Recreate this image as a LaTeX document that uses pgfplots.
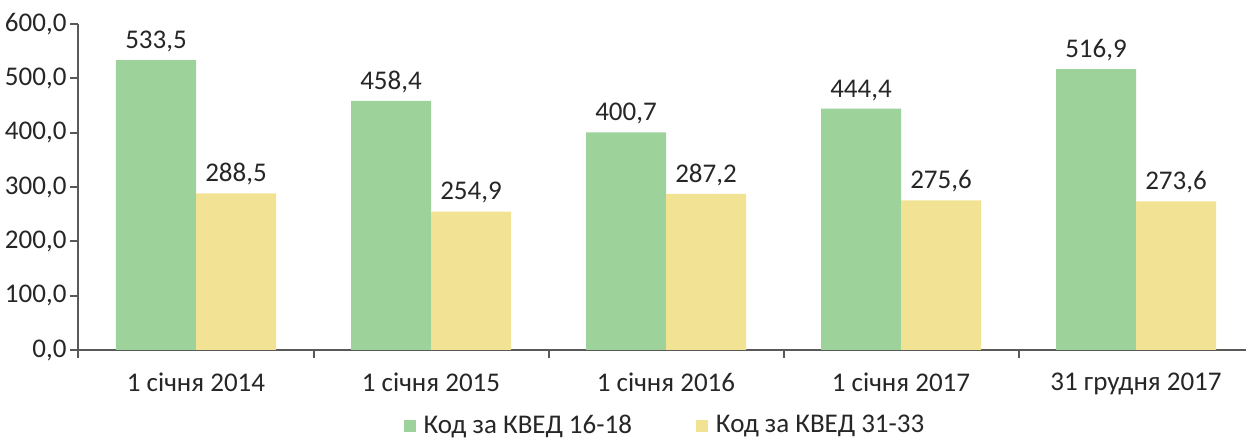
\documentclass[border=0pt]{standalone}
\usepackage{pgfplots}
\pgfplotsset{compat=1.18}
\usepackage{fontspec}
\setmainfont{Carlito}
\definecolor{cgreen}{RGB}{157,210,155}
\definecolor{cyellow}{RGB}{242,227,148}
\definecolor{ctext}{RGB}{38,38,38}
\definecolor{caxis}{RGB}{89,89,89}
\begin{document}
\begin{tikzpicture}
\path[use as bounding box] (-39.25pt,-44pt) rectangle (583.75pt,175pt);
\begin{axis}[
  at={(0,0)}, anchor=south west,
  scale only axis,
  width=587.5pt, height=163pt,
  ybar=0pt, bar width=40pt,
  xmin=-0.5, xmax=4.5,
  ymin=0, ymax=600,
  ytick={0,100,...,600},
  xtick={0,1,2,3,4},
  xticklabels={1 січня 2014, 1 січня 2015, 1 січня 2016, 1 січня 2017, 31 грудня 2017},
  minor xtick={-0.5,0.5,1.5,2.5,3.5,4.5},
  major x tick style={draw=none},
  minor tick length=4pt,
  major tick length=4pt,
  tick align=outside,
  axis x line*=bottom, axis y line*=left,
  axis line style={caxis, line width=1pt},
  every tick/.style={caxis, line width=1pt},
  tick style={caxis, line width=1pt},
  enlargelimits=false,
  clip=false,
  font=\fontsize{13.5pt}{15pt}\selectfont,
  every tick label/.append style={text=ctext},
  xticklabel style={yshift=-4pt},
  yticklabel style={xshift=1.5pt},
  /pgf/number format/.cd, use comma, fixed, fixed zerofill, precision=1, 1000 sep={}, assume math mode=true,
  /pgfplots/.cd,
  nodes near coords,
  nodes near coords style={text=ctext, font=\fontsize{13.5pt}{15pt}\selectfont, yshift=0.5pt,
    /pgf/number format/.cd, use comma, fixed, fixed zerofill, precision=1, 1000 sep={}, assume math mode=true},
  legend style={at={(0.5,-0.232)}, anchor=center, draw=none, legend columns=2,
    font=\fontsize{13.5pt}{15pt}\selectfont, text=ctext,
    /tikz/every odd column/.append style={column sep=2pt},
    /tikz/every even column/.append style={column sep=30pt}},
  legend image code/.code={\fill[#1] (0pt,-3pt) rectangle (6pt,3pt);},
]
\addplot[fill=cgreen, draw=none] coordinates {(0,533.5) (1,458.4) (2,400.7) (3,444.4) (4,516.9)};
\addplot[fill=cyellow, draw=none] coordinates {(0,288.5) (1,254.9) (2,287.2) (3,275.6) (4,273.6)};
\legend{Код за КВЕД 16-18, Код за КВЕД 31-33}
\end{axis}
\end{tikzpicture}
\end{document}
